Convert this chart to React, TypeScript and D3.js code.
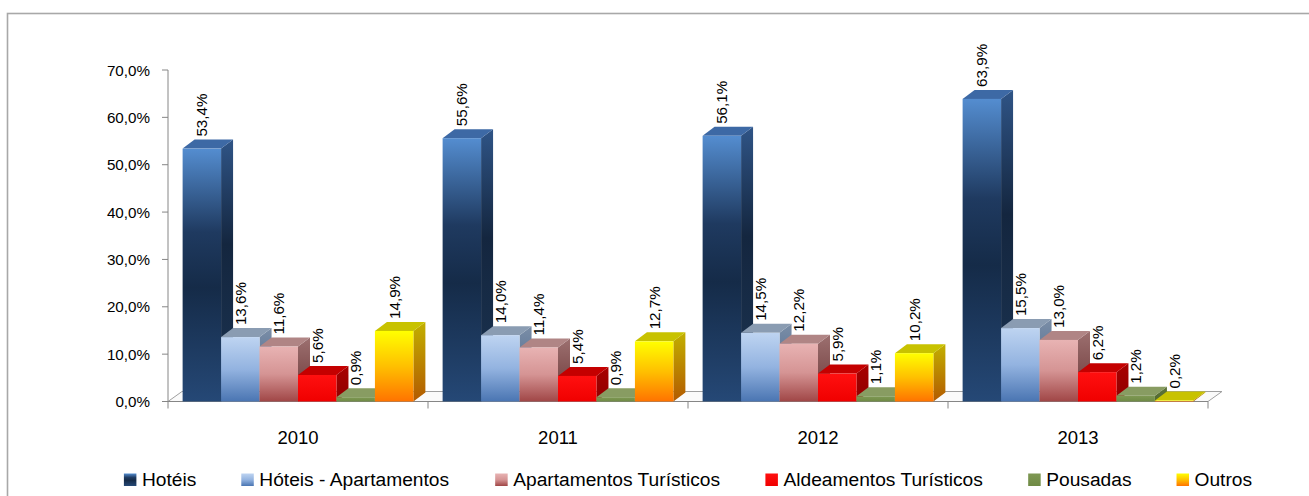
import React from "react";
import * as d3 from "d3";

const years = ["2010", "2011", "2012", "2013"];
const seriesNames = [
  "Hotéis",
  "Hóteis - Apartamentos",
  "Apartamentos Turísticos",
  "Aldeamentos Turísticos",
  "Pousadas",
  "Outros",
];
const hoteis = [53.4, 55.6, 56.1, 63.9];
const hoteisAp = [13.6, 14.0, 14.5, 15.5];
const apartTur = [11.6, 11.4, 12.2, 13.0];
const aldeamTur = [5.6, 5.4, 5.9, 6.2];
const pousadas = [0.9, 0.9, 1.1, 1.2];
const outros = [14.9, 12.7, 10.2, 0.2];
const seriesValues = [hoteis, hoteisAp, apartTur, aldeamTur, pousadas, outros];
const yTicks = [0, 10, 20, 30, 40, 50, 60, 70];

type Style = { front: [number, string][]; top: string; side: [number, string][] };
const styles: Style[] = [
  {
    front: [[0, "#548dd0"], [0.33, "#1f3a60"], [0.55, "#152b48"], [1, "#254876"]],
    top: "#3d69a5",
    side: [[0, "#2f5486"], [0.4, "#14263f"], [1, "#1b3452"]],
  },
  {
    front: [[0, "#bed4f1"], [0.5, "#93b3e0"], [1, "#4a75b2"]],
    top: "#8a9cb2",
    side: [[0, "#7b8ea7"], [1, "#3b5a84"]],
  },
  {
    front: [[0, "#e8b3b3"], [0.5, "#d59494"], [1, "#a04646"]],
    top: "#b08585",
    side: [[0, "#9c7070"], [1, "#6b3434"]],
  },
  {
    front: [[0, "#ff1010"], [1, "#f00000"]],
    top: "#c40000",
    side: [[0, "#a80000"], [1, "#900000"]],
  },
  {
    front: [[0, "#7e9853"], [1, "#6f8a45"]],
    top: "#889c62",
    side: [[0, "#5e7539"], [1, "#526830"]],
  },
  {
    front: [[0, "#ffff00"], [0.5, "#ffc000"], [1, "#ff7300"]],
    top: "#c8c200",
    side: [[0, "#c2b000"], [1, "#b35a00"]],
  },
];

const W = 1309;
const H = 496;
const x0 = 168;
const x1 = 1208;
const baseY = 401.5;
const barDx = 12;
const barDy = -9;
const floorDx = 14;
const floorDy = -10;
const FONT = "'Liberation Sans', Arial, sans-serif";

const fmt = (v: number) => v.toFixed(1).replace(".", ",") + "%";

function measure(text: string, size: number) {
  const c = document.createElement("canvas").getContext("2d")!;
  c.font = `${size}px ${FONT}`;
  return c.measureText(text).width;
}

export default function App() {
  const y = d3.scaleLinear().domain([0, 70]).range([baseY, 70]);
  const xBand = d3.scaleBand<string>().domain(years).range([x0, x1]).padding(0);
  const inner = d3
    .scaleBand<string>()
    .domain(seriesNames)
    .range([0, xBand.bandwidth()])
    .paddingInner(0)
    .paddingOuter(0.38);
  const bw = inner.bandwidth();

  // legend layout
  const legSize = 19.2;
  const sq = 12.5;
  const gapSq = 5.5;
  const gapItem = 45;
  const widths = seriesNames.map((s) => measure(s, legSize));
  const total =
    widths.reduce((a, b) => a + b, 0) + seriesNames.length * (sq + gapSq) + gapItem * (seriesNames.length - 1);
  let lx = (x0 + x1) / 2 - total / 2;
  const legendPos = widths.map((w) => {
    const p = lx;
    lx += sq + gapSq + w + gapItem;
    return p;
  });

  const grad = (id: string, stops: [number, string][]) => (
    <linearGradient id={id} key={id} x1="0" y1="0" x2="0" y2="1">
      {stops.map(([o, c], i) => (
        <stop key={i} offset={o} stopColor={c} />
      ))}
    </linearGradient>
  );

  return (
    <svg
      width={W}
      height={H}
      style={{ position: "absolute", left: 0, top: 0, background: "#fff" }}
      fontFamily={FONT}
    >
      <defs>
        {styles.map((s, i) => grad(`f${i}`, s.front))}
        {styles.map((s, i) => grad(`s${i}`, s.side))}
      </defs>
      <rect x={7.5} y={13.5} width={1330} height={520} fill="#fff" stroke="#a8a8a8" strokeWidth={1.6} />

      {/* floor */}
      <path
        d={`M${x0},${baseY} L${x1},${baseY} L${x1 + floorDx},${baseY + floorDy} L${x0 + floorDx},${baseY + floorDy} Z`}
        fill="#fafafa"
        stroke="#a0a0a0"
        strokeWidth={1}
      />

      {/* y axis */}
      <line x1={x0} y1={y(70)} x2={x0} y2={baseY} stroke="#868686" strokeWidth={1} />
      {yTicks.map((t) => (
        <g key={t}>
          <line x1={x0 - 6} x2={x0} y1={y(t)} y2={y(t)} stroke="#868686" />
          <text x={x0 - 18} y={y(t) + 5.5} textAnchor="end" fontSize={15.2} fill="#000">
            {fmt(t)}
          </text>
        </g>
      ))}

      {/* x axis */}
      <line x1={x0} x2={x1} y1={baseY} y2={baseY} stroke="#868686" />
      {years.map((yr) => (
        <line
          key={yr}
          x1={xBand(yr)! + xBand.bandwidth()}
          x2={xBand(yr)! + xBand.bandwidth()}
          y1={baseY}
          y2={baseY + 7}
          stroke="#868686"
        />
      ))}
      <line x1={x0} x2={x0} y1={baseY} y2={baseY + 7} stroke="#868686" />

      {/* bars */}
      {years.map((yr, yi) => (
        <g key={yr}>
          {seriesNames.map((s, si) => {
            const v = seriesValues[si][yi];
            const bx = xBand(yr)! + inner(s)!;
            const ty = y(v);
            const st = styles[si];
            return (
              <g key={s}>
                <path
                  d={`M${bx + bw},${ty} L${bx + bw + barDx},${ty + barDy} L${bx + bw + barDx},${baseY + barDy} L${bx + bw},${baseY} Z`}
                  fill={`url(#s${si})`}
                />
                <path
                  d={`M${bx},${ty} L${bx + bw},${ty} L${bx + bw + barDx},${ty + barDy} L${bx + barDx},${ty + barDy} Z`}
                  fill={st.top}
                />
                <rect x={bx} y={ty} width={bw} height={Math.max(0, baseY - ty)} fill={`url(#f${si})`} />
              </g>
            );
          })}
        </g>
      ))}

      {/* value labels */}
      {years.map((yr, yi) =>
        seriesNames.map((s, si) => {
          const v = seriesValues[si][yi];
          const cx = xBand(yr)! + inner(s)! + bw / 2;
          const ty = y(v) + barDy - 3;
          return (
            <text
              key={yr + s}
              transform={`translate(${cx + 5.5},${ty}) rotate(-90)`}
              fontSize={15.2}
              fill="#000"
            >
              {fmt(v)}
            </text>
          );
        })
      )}

      {/* category labels */}
      {years.map((yr) => (
        <text key={yr} x={xBand(yr)! + xBand.bandwidth() / 2} y={444} textAnchor="middle" fontSize={18.5} fill="#000">
          {yr}
        </text>
      ))}

      {/* legend */}
      {seriesNames.map((s, i) => (
        <g key={s}>
          <rect x={legendPos[i]} y={473.5} width={sq} height={sq} fill={`url(#f${i})`} />
          <text x={legendPos[i] + sq + gapSq} y={486} fontSize={legSize} fill="#000">
            {s}
          </text>
        </g>
      ))}
    </svg>
  );
}
